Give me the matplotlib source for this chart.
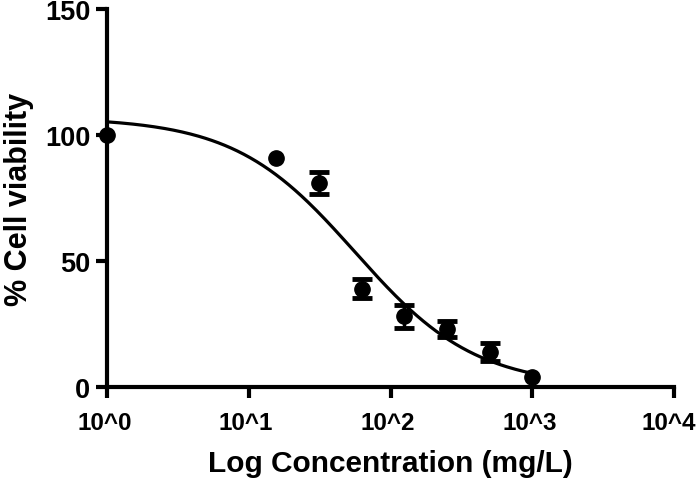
import numpy as np
import matplotlib
matplotlib.use("Agg")
import matplotlib.pyplot as plt
from matplotlib.transforms import ScaledTranslation

# measured points
conc = [1, 15.625, 31.25, 62.5, 125, 250, 500, 1000]
viability = [100, 91, 81, 39, 28, 23, 14, 4]
sem = [0, 0, 4.5, 3.8, 4.6, 3.3, 3.6, 0]

# fitted dose-response curve
top, bottom = 107.0, 0.0
log_ic50, hill = 1.75, 1.02

xticks = [1, 10, 100, 1000, 10000]
xticklabels = ["10^0", "10^1", "10^2", "10^3", "10^4"]
yticks = [0, 50, 100, 150]

plt.rcParams['font.family'] = ['Liberation Sans', 'DejaVu Sans']
plt.rcParams['font.weight'] = 'bold'

fig = plt.figure(figsize=(7, 4.85), dpi=100)
ax = fig.add_axes([0.153, 0.2, 0.81, 0.779])

xs = np.logspace(0, 3, 200)
fit = bottom + (top - bottom) / (1 + 10 ** ((np.log10(xs) - log_ic50) * hill))
ax.plot(xs, fit, color='black', lw=2.3)

ax.plot(conc, viability, 'o', color='black', ms=11, clip_on=False, zorder=3)
# error bars only where there is a spread
idx = [i for i, e in enumerate(sem) if e > 0]
ax.errorbar([conc[i] for i in idx], [viability[i] for i in idx],
            yerr=[sem[i] for i in idx], fmt='none', ecolor='black',
            elinewidth=2.5, capsize=7, capthick=3.5, zorder=3)

ax.set_xscale('log')
ax.set_xlim(1, 10000)
ax.set_ylim(0, 150)
ax.set_xticks(xticks)
ax.set_xticklabels(xticklabels)
ax.minorticks_off()
ax.set_yticks(yticks)

for s in ['top', 'right']:
    ax.spines[s].set_visible(False)
for s in ['left', 'bottom']:
    ax.spines[s].set_linewidth(3)
ax.tick_params(width=3, length=8)
ax.tick_params(axis='x', labelsize=17.5, pad=9)
ax.tick_params(axis='y', labelsize=19.5, pad=4)

# x labels sit a little left of their ticks in the original
for lab in ax.get_xticklabels():
    lab.set_transform(lab.get_transform() + ScaledTranslation(-2 / 72, 0, fig.dpi_scale_trans))
last = ax.get_xticklabels()[-1]
last.set_transform(last.get_transform() + ScaledTranslation(-2 / 72, 0, fig.dpi_scale_trans))

ax.set_xlabel('Log Concentration (mg/L)', fontsize=21.5, fontweight='bold', labelpad=11)
ax.set_ylabel('% Cell viability', fontsize=22, fontweight='bold', labelpad=8)

fig.savefig('out.png', dpi=100)
